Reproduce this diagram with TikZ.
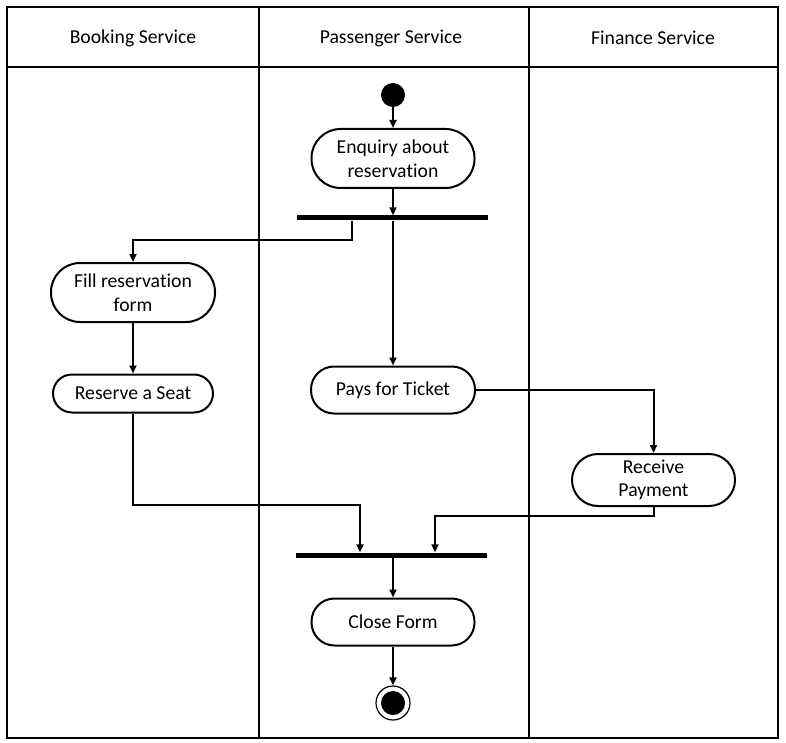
\documentclass[tikz,border=0pt]{standalone}
\usepackage{fontspec}
\setmainfont{Carlito}[Ligatures=NoCommon,RawFeature={-calt}]
\usetikzlibrary{arrows.meta}
\begin{document}
\begin{tikzpicture}[x=1pt,y=-1pt,
  every node/.style={font=\fontsize{19.7}{23.5}\selectfont},
  lane/.style={line width=1.1pt},
  act/.style={draw, line width=2pt, inner sep=0pt, align=center, minimum width=163pt},
  bar/.style={fill=black, inner sep=0pt, minimum width=191pt, minimum height=5pt},
  arr/.style={line width=2pt, -{Triangle[length=8pt,width=7pt]}},
  lbl/.style={inner sep=0pt}
]
\useasboundingbox (0,0) rectangle (786,743);
% swimlanes
\draw[lane] (7,7) rectangle (778,738);
\draw[lane] (7,67) -- (778,67);
\draw[lane] (259,7) -- (259,738);
\draw[lane] (529,7) -- (529,738);
\node[lbl] (h1) at (133,38) {Booking Service};
\node[lbl] (h2) at (391,38) {Passenger Service};
\node[lbl] (h3) at (653,38) {Finance Service};
% nodes
\node[circle, fill=black, inner sep=0pt, minimum size=24pt] (start) at (393,95) {};
\node[act, minimum height=59pt, rounded corners=29pt] (enq) at (393,158.5) {Enquiry about\\reserva\kern0pt tion};
\node[bar] (bar1) at (392.3,218) {};
\node[act, minimum width=164pt, minimum height=59pt, rounded corners=29pt] (fill) at (133,292.5) {Fill reserva\kern0pt tion\\form};
\node[act, minimum width=160pt, minimum height=38pt, rounded corners=19pt] (seat) at (133,393.5) {Reserve a Seat};
\node[act, minimum width=164pt, minimum height=47pt, rounded corners=23pt] (pays) at (393,390) {Pays for Ticket};
\node[act, minimum height=52pt, rounded corners=26pt] (recv) at (653.5,480) {Receive\\Payment};
\node[bar] (bar2) at (391.2,555) {};
\node[act, minimum height=47pt, rounded corners=23pt] (close) at (393,622) {Close Form};
\node[circle, draw, line width=1.2pt, inner sep=0pt, minimum size=34pt] (end) at (393,703) {};
\node[circle, fill=black, inner sep=0pt, minimum size=24pt] (endin) at (end.center) {};
% junction coordinates
\coordinate (j1) at (352,240);
\coordinate (j2) at (360,505);
\coordinate (j3) at (435,516);
% connectors
\draw[arr] (start.south) -- (enq.north);
\draw[arr] (enq.south) -- (enq.south |- bar1.north);
\draw[arr] (bar1.south -| j1) -- (j1) -| (fill.north);
\draw[arr] (fill.south) -- (seat.north);
\draw[arr] (bar1.south -| pays.north) -- (pays.north);
\draw[arr] (pays.east) -| (recv.north);
\draw[arr] (seat.south) |- (j2) -- (bar2.north -| j2);
\draw[arr] (recv.south) |- (j3) -- (bar2.north -| j3);
\draw[arr] (bar2.south -| close.north) -- (close.north);
\draw[arr] (close.south) -- (end.north);
\end{tikzpicture}
\end{document}
